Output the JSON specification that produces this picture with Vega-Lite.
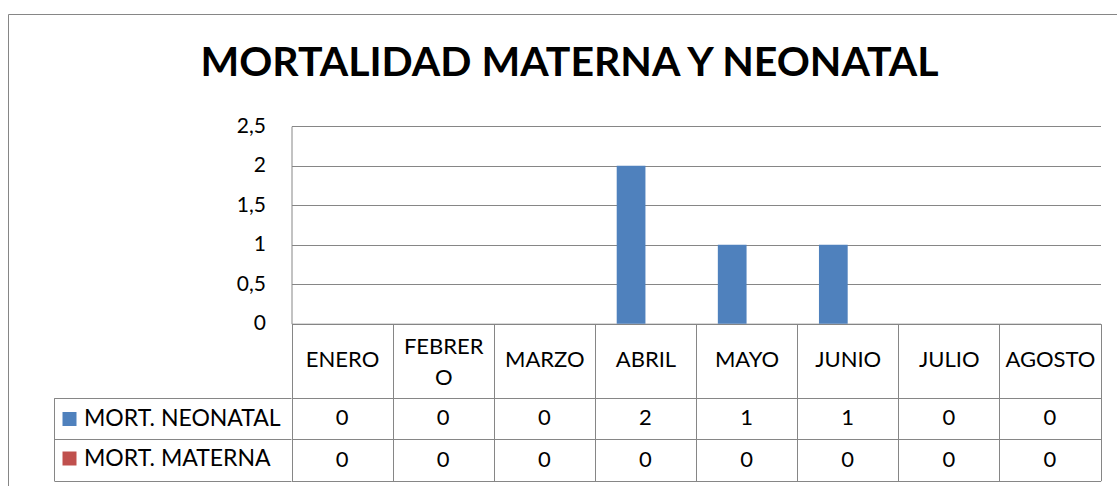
{
  "$schema": "https://vega.github.io/schema/vega-lite/v6.json",
  "width": 1109,
  "height": 472,
  "autosize": {"type": "none"},
  "padding": {"left": 8, "top": 14, "right": 0, "bottom": 0},
  "background": "white",
  "title": {
    "text": "MORTALIDAD MATERNA Y NEONATAL",
    "font": "Lato",
    "fontSize": 41,
    "fontWeight": "bold",
    "color": "black",
    "anchor": "middle",
    "offset": -103,
    "baseline": "alphabetic",
    "dx": 7
  },
  "data": {
    "values": [
      {"mes": "ENERO", "serie": "MORT. NEONATAL", "valor": 0},
      {"mes": "FEBRERO", "serie": "MORT. NEONATAL", "valor": 0},
      {"mes": "MARZO", "serie": "MORT. NEONATAL", "valor": 0},
      {"mes": "ABRIL", "serie": "MORT. NEONATAL", "valor": 2},
      {"mes": "MAYO", "serie": "MORT. NEONATAL", "valor": 1},
      {"mes": "JUNIO", "serie": "MORT. NEONATAL", "valor": 1},
      {"mes": "JULIO", "serie": "MORT. NEONATAL", "valor": 0},
      {"mes": "AGOSTO", "serie": "MORT. NEONATAL", "valor": 0},
      {"mes": "ENERO", "serie": "MORT. MATERNA", "valor": 0},
      {"mes": "FEBRERO", "serie": "MORT. MATERNA", "valor": 0},
      {"mes": "MARZO", "serie": "MORT. MATERNA", "valor": 0},
      {"mes": "ABRIL", "serie": "MORT. MATERNA", "valor": 0},
      {"mes": "MAYO", "serie": "MORT. MATERNA", "valor": 0},
      {"mes": "JUNIO", "serie": "MORT. MATERNA", "valor": 0},
      {"mes": "JULIO", "serie": "MORT. MATERNA", "valor": 0},
      {"mes": "AGOSTO", "serie": "MORT. MATERNA", "valor": 0}
    ]
  },
  "layer": [
    {
      "mark": {"type": "bar"},
      "encoding": {
        "x": {
          "field": "mes",
          "type": "nominal",
          "sort": null,
          "scale": {
            "domain": ["ENERO", "FEBRERO", "MARZO", "ABRIL", "MAYO", "JUNIO", "JULIO", "AGOSTO"],
            "range": [283.5, 1092.5],
            "paddingInner": 0,
            "paddingOuter": 0
          },
          "axis": {
            "orient": "bottom",
            "offset": -162.3,
            "title": null,
            "domain": true,
            "ticks": true,
            "tickBand": "extent",
            "tickSize": 157,
            "grid": false,
            "labelAngle": 0,
            "labelFontSize": 22,
            "labelBaseline": "middle",
            "labelPadding": {"condition": {"test": "datum.value == 'FEBRERO'", "value": -134.5}, "value": -121},
            "labelLineHeight": 31,
            "labelOverlap": false,
            "labelBound": false,
            "labelFlush": false,
            "labelExpr": "datum.value == 'FEBRERO' ? ['FEBRER', 'O'] : datum.label"
          }
        },
        "xOffset": {
          "field": "serie",
          "type": "nominal",
          "scale": {
            "domain": ["MORT. NEONATAL", "MORT. MATERNA"],
            "paddingInner": 0,
            "paddingOuter": 0.76
          }
        },
        "y": {
          "field": "valor",
          "type": "quantitative",
          "scale": {"domain": [0, 2.5], "range": [309.7, 112.2], "nice": false, "zero": true},
          "axis": {
            "orient": "left",
            "offset": -283.5,
            "title": null,
            "values": [0, 0.5, 1, 1.5, 2, 2.5],
            "grid": true,
            "domain": true,
            "ticks": false,
            "labelPadding": 26,
            "labelExpr": "replace(format(datum.value, '~g'), '.', ',')"
          }
        },
        "color": {
          "field": "serie",
          "type": "nominal",
          "scale": {
            "domain": ["MORT. NEONATAL", "MORT. MATERNA"],
            "range": ["#4F81BD", "#C0504D"]
          },
          "legend": {
            "orient": "none",
            "legendX": 50,
            "legendY": 393.5,
            "title": null,
            "padding": 0,
            "symbolType": "square",
            "symbolSize": 196,
            "symbolStrokeWidth": 0,
            "symbolOpacity": 1,
            "labelFont": "Lato",
            "labelFontSize": 23,
            "labelColor": "black",
            "labelOffset": 3,
            "labelLimit": 400,
            "rowPadding": 15.5
          }
        }
      }
    },
    {
      "mark": {"type": "text", "fontSize": 22, "font": "Lato", "color": "black", "align": "center", "baseline": "middle"},
      "encoding": {
        "x": {"field": "mes", "type": "nominal", "sort": null},
        "y": {
          "field": "serie",
          "type": "nominal",
          "sort": null,
          "scale": {
            "domain": ["MORT. NEONATAL", "MORT. MATERNA"],
            "range": [383.7, 466.7],
            "paddingInner": 0,
            "paddingOuter": 0
          },
          "axis": {
            "orient": "left",
            "offset": -46,
            "title": null,
            "domain": true,
            "ticks": true,
            "tickBand": "extent",
            "tickSize": -237,
            "grid": true,
            "labels": false
          }
        },
        "text": {"field": "valor", "type": "quantitative"}
      }
    }
  ],
  "resolve": {"scale": {"y": "independent"}},
  "config": {
    "font": "Lato",
    "view": {"stroke": "#868686", "strokeWidth": 1},
    "axis": {
      "domainColor": "#868686",
      "domainWidth": 1,
      "tickColor": "#868686",
      "tickWidth": 1,
      "gridColor": "#868686",
      "gridOpacity": 1,
      "gridWidth": 1,
      "labelColor": "black",
      "labelFont": "Lato",
      "labelFontSize": 21
    }
  }
}
